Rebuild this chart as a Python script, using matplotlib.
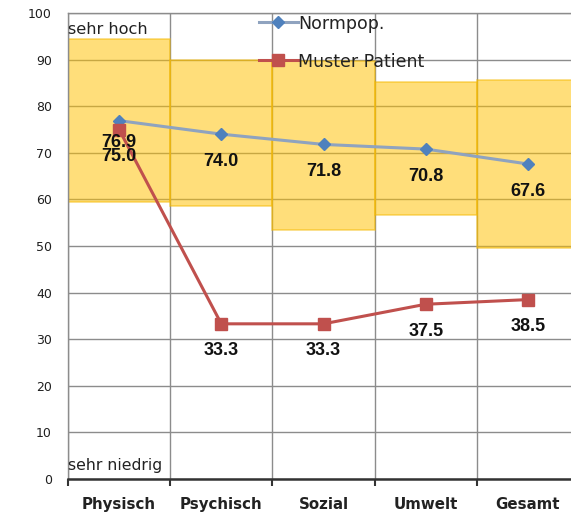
import numpy as np
import matplotlib.pyplot as plt

kategorien = ["Physisch", "Psychisch", "Sozial", "Umwelt", "Gesamt"]
normpop = [76.9, 74.0, 71.8, 70.8, 67.6]
patient = [75.0, 33.3, 33.3, 37.5, 38.5]
band_unten = [59.5, 58.6, 53.4, 56.7, 49.5]
band_oben = [94.5, 90.0, 89.8, 85.2, 85.6]

x = np.arange(len(kategorien))

fig = plt.figure(figsize=(5.71, 5.14), dpi=100)
ax = fig.add_axes([68 / 571, 35 / 514, 511 / 571, 466 / 514])

# Normbereich als Balken
hoehe = [o - u for o, u in zip(band_oben, band_unten)]
ax.bar(x, hoehe, width=1.0, bottom=band_unten, color="#FFC000", alpha=0.52,
       edgecolor="#F5B800", linewidth=1.2, zorder=2)

ax.plot(x, normpop, color="#8FA3BF", linewidth=2.2, marker="D", markersize=6.5,
        markerfacecolor="#4F81BD", markeredgecolor="#4F81BD", label="Normpop.", zorder=4)
ax.plot(x, patient, color="#C0504D", linewidth=2.2, marker="s", markersize=9,
        markerfacecolor="#C0504D", markeredgecolor="#C0504D", label="Muster Patient", zorder=5)

for i, (xi, v) in enumerate(zip(x, normpop)):
    dy = -16 if i == 0 else -19.5
    ax.annotate(f"{v:.1f}", (xi, v), xytext=(0, dy), textcoords="offset points",
                ha="center", va="center", fontsize=13, fontweight="bold",
                family="Liberation Sans", color="#111111", zorder=6)
for xi, v in zip(x, patient):
    ax.annotate(f"{v:.1f}", (xi, v), xytext=(0, -19.5), textcoords="offset points",
                ha="center", va="center", fontsize=13, fontweight="bold",
                family="Liberation Sans", color="#111111", zorder=6)

ax.text(-0.5, 96.5, "sehr hoch", ha="left", va="center", fontsize=11.6, color="#222222", zorder=6)
ax.text(-0.5, 3.0, "sehr niedrig", ha="left", va="center", fontsize=11.3, color="#222222", zorder=6)

ax.set_xlim(-0.5, 4.5)
ax.set_ylim(0, 100)
ax.set_yticks(np.arange(0, 101, 10))
ax.set_xticks(x)
ax.set_xticklabels(kategorien, fontsize=10.8, fontweight="bold", color="#222222")
ax.set_xticks(np.arange(-0.5, 4.6, 1), minor=True)
ax.tick_params(axis="y", length=0, pad=11.5, labelsize=9, labelcolor="#1F1F1F")
ax.tick_params(axis="x", which="major", length=0, pad=13)
ax.tick_params(axis="x", which="minor", length=5, width=1.5, color="#333333")

ax.grid(axis="y", color="#8C8C8C", linewidth=1.0, zorder=1)
ax.grid(axis="x", which="minor", color="#8C8C8C", linewidth=1.0, zorder=1)
ax.set_axisbelow(True)
for s in ["top", "right", "left"]:
    ax.spines[s].set_color("#8C8C8C")
    ax.spines[s].set_linewidth(1.0)
ax.spines["bottom"].set_color("#333333")
ax.spines["bottom"].set_linewidth(1.8)

leg = ax.legend(loc="upper left", bbox_to_anchor=(0.354, 1.019), frameon=False,
                fontsize=12.5, handlelength=2.2, handletextpad=0.05, labelspacing=1.15,
                borderpad=0.1)
for t in leg.get_texts():
    t.set_color("#222222")

fig.savefig("out.png", dpi=100)
